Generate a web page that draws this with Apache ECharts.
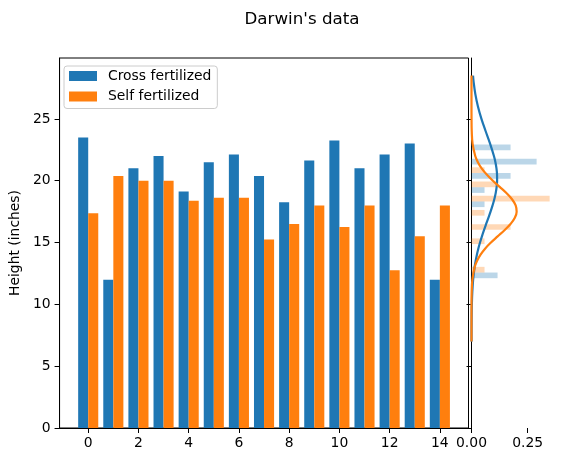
<!DOCTYPE html>
<html>
<head>
<meta charset="utf-8">
<script src="https://cdn.jsdelivr.net/npm/echarts@6/dist/echarts.min.js"></script>
<style>
  html, body { margin: 0; padding: 0; background: #fff; }
  #chart { width: 562px; height: 461px; }
</style>
</head>
<body>
<div id="chart"></div>
<script>
// pot index 0..14
var pots = [0, 1, 2, 3, 4, 5, 6, 7, 8, 9, 10, 11, 12, 13, 14];
var crossHeights = [23.5, 12, 21, 22, 19.125, 21.5, 22.125, 20.375, 18.25, 21.625, 23.25, 21, 22.125, 23, 12];
var selfHeights = [17.375, 20.375, 20, 20, 18.375, 18.625, 18.625, 15.25, 16.5, 18, 16.25, 18, 12.75, 15.5, 18];

// side histogram (density), bin edges shared by both groups
var histEdges = [12, 13.15, 14.3, 15.45, 16.6, 17.75, 18.9, 20.05, 21.2, 22.35, 23.5];
var crossDensity = [0.116, 0, 0, 0, 0, 0.058, 0.058, 0.174, 0.290, 0.174];
var selfDensity = [0.058, 0, 0.058, 0.174, 0.058, 0.348, 0.116, 0.058, 0, 0];

// fitted curves
var curveY = [7, 8, 9, 10, 11, 12, 13, 13.5, 14, 14.5, 15, 15.5, 16, 16.5, 17, 17.5, 18, 18.5, 19, 19.5, 20, 20.5, 21, 21.5, 22, 23, 24, 25, 26, 27, 28, 28.5];
var crossCurve = [0.0001, 0.0003, 0.0007, 0.0016, 0.0036, 0.0073, 0.0137, 0.0183, 0.0238, 0.0303, 0.0379, 0.0464, 0.0556, 0.0653, 0.0752, 0.0849, 0.0938, 0.1016, 0.1077, 0.1120, 0.1140, 0.1137, 0.1112, 0.1065, 0.0999, 0.0827, 0.0631, 0.0443, 0.0287, 0.0171, 0.0094, 0.0068];
var selfCurve = [0, 0, 0, 0.0001, 0.0008, 0.0039, 0.0140, 0.0243, 0.0396, 0.0604, 0.0866, 0.1164, 0.1468, 0.1737, 0.1930, 0.2011, 0.1967, 0.1805, 0.1554, 0.1256, 0.0952, 0.0678, 0.0452, 0.0283, 0.0167, 0.0048, 0.0011, 0.0002, 0, 0, 0, 0];

var blue = '#1f77b4';
var orange = '#ff7f0e';
var font = 'DejaVu Sans';
var yMax = 29.925;

function barItem(offset) {
  return function (params, api) {
    var x = api.value(0);
    var v = api.value(1);
    var a = api.coord([x + offset, v]);
    var b = api.coord([x + offset + 0.4, 0]);
    return {
      type: 'rect',
      shape: { x: a[0], y: a[1], width: b[0] - a[0], height: b[1] - a[1] },
      style: { fill: api.visual('color') }
    };
  };
}

function histItem(side) {
  return function (params, api) {
    var d = api.value(0);
    if (!d) return null;
    var lo = api.value(1), hi = api.value(2);
    var w = hi - lo;
    var c = (lo + hi) / 2;
    var h = 0.8 * w / 2;
    var y0 = side < 0 ? c - h : c;
    var a = api.coord([0, y0 + h]);
    var b = api.coord([d, y0]);
    return {
      type: 'rect',
      shape: { x: a[0], y: a[1], width: b[0] - a[0], height: b[1] - a[1] },
      style: { fill: api.visual('color'), opacity: 0.3 }
    };
  };
}

var chart = echarts.init(document.getElementById('chart'), null, { renderer: 'canvas' });

var option = {
  animation: false,
  backgroundColor: '#fff',
  textStyle: { fontFamily: font },
  title: {
    text: "Darwin's data",
    left: 297, top: 6, textAlign: 'center',
    textStyle: { fontFamily: font, fontSize: 16.7, fontWeight: 'normal', color: '#000' }
  },
  legend: {
    left: 64, top: 66,
    orient: 'vertical',
    data: ['Cross fertilized', 'Self fertilized'],
    icon: 'rect',
    itemWidth: 28, itemHeight: 10, itemGap: 6.5,
    padding: [3, 6, 5, 5],
    borderColor: '#cccccc', borderWidth: 1, borderRadius: 3,
    backgroundColor: 'rgba(255,255,255,0.8)',
    textStyle: { fontFamily: font, fontSize: 13.9, color: '#000', lineHeight: 14, padding: [0, 0, 0, 6] }
  },
  grid: [
    { left: 57, top: 58, width: 411.5, height: 370, show: true, borderColor: '#000', borderWidth: 1, backgroundColor: 'transparent' },
    { left: 471.5, top: 58, width: 82, height: 370 }
  ],
  xAxis: [
    {
      type: 'value', gridIndex: 0, min: -1.14, max: 15.14,
      axisLine: { show: true, onZero: false, lineStyle: { color: '#000' } },
      axisTick: { show: true, length: 5, customValues: [0, 2, 4, 6, 8, 10, 12, 14], lineStyle: { color: '#000' } },
      axisLabel: { customValues: [0, 2, 4, 6, 8, 10, 12, 14], margin: 8, color: '#000', fontFamily: font, fontSize: 13.9 },
      splitLine: { show: false }
    },
    {
      type: 'value', gridIndex: 1, min: 0, max: 0.3652,
      axisLine: { show: false },
      axisTick: { show: true, length: 5, customValues: [0, 0.25], lineStyle: { color: '#000' } },
      axisLabel: {
        customValues: [0, 0.25], margin: 8, color: '#000', fontFamily: font, fontSize: 13.9,
        formatter: function (v) { return v.toFixed(2); }
      },
      splitLine: { show: false }
    }
  ],
  yAxis: [
    {
      type: 'value', gridIndex: 0, min: 0, max: yMax,
      name: 'Height (inches)', nameLocation: 'middle', nameGap: 34, nameRotate: 90,
      nameTextStyle: { fontFamily: font, fontSize: 13.9, color: '#000' },
      axisLine: { show: true, onZero: false, lineStyle: { color: '#000' } },
      axisTick: { show: true, length: 5, customValues: [0, 5, 10, 15, 20, 25], lineStyle: { color: '#000' } },
      axisLabel: { customValues: [0, 5, 10, 15, 20, 25], margin: 9, color: '#000', fontFamily: font, fontSize: 13.9 },
      splitLine: { show: false }
    },
    {
      type: 'value', gridIndex: 1, min: 0, max: yMax,
      axisLine: { show: true, onZero: false, lineStyle: { color: '#000' } },
      axisTick: { show: true, length: 5, customValues: [0, 5, 10, 15, 20, 25], lineStyle: { color: '#000' } },
      axisLabel: { show: false },
      splitLine: { show: false }
    }
  ],
  series: [
    {
      name: 'Cross fertilized', type: 'custom', xAxisIndex: 0, yAxisIndex: 0,
      itemStyle: { color: blue },
      renderItem: barItem(-0.4),
      encode: { x: 0, y: 1 },
      data: pots.map(function (p, i) { return [p, crossHeights[i]]; })
    },
    {
      name: 'Self fertilized', type: 'custom', xAxisIndex: 0, yAxisIndex: 0,
      itemStyle: { color: orange },
      renderItem: barItem(0),
      encode: { x: 0, y: 1 },
      data: pots.map(function (p, i) { return [p, selfHeights[i]]; })
    },
    {
      name: 'cross hist', type: 'custom', xAxisIndex: 1, yAxisIndex: 1,
      itemStyle: { color: blue },
      renderItem: histItem(-1),
      encode: { x: 0, y: [1, 2] },
      data: crossDensity.map(function (d, i) { return [d, histEdges[i], histEdges[i + 1]]; })
    },
    {
      name: 'self hist', type: 'custom', xAxisIndex: 1, yAxisIndex: 1,
      itemStyle: { color: orange },
      renderItem: histItem(1),
      encode: { x: 0, y: [1, 2] },
      data: selfDensity.map(function (d, i) { return [d, histEdges[i], histEdges[i + 1]]; })
    },
    {
      name: 'cross fit', type: 'line', xAxisIndex: 1, yAxisIndex: 1, z: 5,
      showSymbol: false, smooth: 0.4,
      lineStyle: { color: blue, width: 2.2 },
      itemStyle: { color: blue },
      data: curveY.map(function (y, i) { return [crossCurve[i], y]; })
    },
    {
      name: 'self fit', type: 'line', xAxisIndex: 1, yAxisIndex: 1, z: 6,
      showSymbol: false, smooth: 0.4,
      lineStyle: { color: orange, width: 2.2 },
      itemStyle: { color: orange },
      data: curveY.map(function (y, i) { return [selfCurve[i], y]; })
    }
  ]
};

chart.setOption(option);
</script>
</body>
</html>
